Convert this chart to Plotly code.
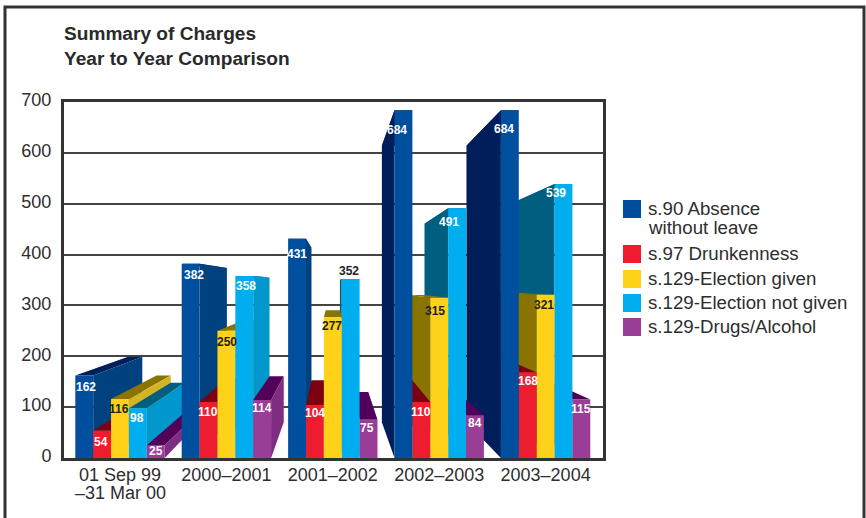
import plotly.graph_objects as go

categories = ["01 Sep 99<br>–31 Mar 00", "2000–2001", "2001–2002", "2002–2003", "2003–2004"]
series_names = ["s.90 Absence<br>without leave", "s.97 Drunkenness", "s.129-Election given",
                "s.129-Election not given", "s.129-Drugs/Alcohol"]
absence = [162, 382, 431, 684, 684]
drunkenness = [54, 110, 104, 110, 168]
election_given = [116, 250, 277, 315, 321]
election_not_given = [98, 358, 352, 491, 539]
drugs = [25, 114, 75, 84, 115]
y_ticks = [0, 100, 200, 300, 400, 500, 600, 700]

series_values = [absence, drunkenness, election_given, election_not_given, drugs]

# style: front, top face, side facing right, side facing left
front_colors = ["#004f9f", "#ed1c2e", "#ffd21a", "#00aeef", "#993d97"]
top_colors = ["#001f5a", "#7d0012", "#8a7400", "#005f80", "#52005a"]
right_colors = ["#00417f", "#7d0012", "#d4b324", "#0098cc", "#7f2d80"]
left_colors = ["#001f5a", "#9b0014", "#8a7400", "#005f80", "#7a2b7a"]
label_colors = ["#fff", "#fff", "#222", "#fff", "#fff"]

# perspective of the original artwork
VP_X, VP_Y = 2.0, 342.0
DEPTH = 0.205
BAR_W = 0.168
W, H = 866, 518
L, R, T, B = 64, 603, 102, 458

# per-label nudges in px (dx, dy below top)
label_dx = [[2, -1, -1, -1, 0], [3, -1, 1, 2, 0], [0, 0, -1, -2, -2], [-6, 0, -4, -8, 0], [-6, 0, -2, -7, 0]]
label_dy = [[11, 11, 10, 10, 6], [11, 10, 11, 10, 8], [15, 8, 9, -8, 8], [20, 10, 13, 14, 8], [19, 8, 10, 9, 9]]

fig = go.Figure()


def back(x, y):
    return x + DEPTH * (VP_X - x), y + DEPTH * (VP_Y - y)


def poly(xs, ys, color, name=None):
    fig.add_trace(go.Scatter(x=xs + xs[:1], y=ys + ys[:1], mode="lines", fill="toself", fillcolor=color,
                             line=dict(width=0, color=color), hoverinfo="skip" if name is None else "name",
                             name=name or "", showlegend=False))


bars = []
for g in range(len(categories)):
    for s in range(len(series_values)):
        bars.append((g + (s - 2) * BAR_W, g, s))
bars.sort(key=lambda b: -abs(b[0] - VP_X))

for xc, g, s in bars:
    v = series_values[s][g]
    x0, x1 = xc - BAR_W / 2, xc + BAR_W / 2
    bx0, tv = back(x0, v)
    bx1, _ = back(x1, v)
    poly([x0, x1, bx1, bx0], [v, v, tv, tv], top_colors[s])
    if x1 < VP_X:
        _, bb = back(x1, 0)
        poly([x1, x1, bx1, bx1], [0, v, tv, bb], right_colors[s])
    if x0 > VP_X:
        _, bb = back(x0, 0)
        poly([x0, x0, bx0, bx0], [0, v, tv, bb], left_colors[s])
    poly([x0, x1, x1, x0], [0, 0, v, v], front_colors[s], name=series_names[s].replace("<br>", " "))

annotations = []
for xc, g, s in bars:
    dark_outside = series_values[s][g] == 352
    annotations.append(dict(x=xc, y=series_values[s][g], xref="x", yref="y",
                            text="<b>" + str(series_values[s][g]) + "</b>",
                            showarrow=False, xshift=label_dx[g][s], yshift=-label_dy[g][s],
                            font=dict(family="Liberation Sans", size=12,
                                      color="#222" if dark_outside else label_colors[s])))


def px(v):
    return (v - L) / (R - L)


def py(v):
    return (B - v) / (B - T)


annotations.append(dict(x=px(62), y=py(46), xref="paper", yref="paper", xanchor="left", yanchor="middle",
                        align="left", showarrow=False,
                        text="<b>Summary of Charges<br>Year to Year Comparison</b>",
                        font=dict(family="Liberation Sans", size=19.1, color="#2a2a2a")))

# second row of the first category, tighter than a plotly line break
annotations.append(dict(x=0, y=py(493), xref="x", yref="paper", yanchor="middle", showarrow=False,
                        text=categories[0].split("<br>")[1],
                        font=dict(family="Liberation Sans", size=18, color="#2e2e2e")))

shapes = [dict(type="rect", xref="paper", yref="paper", x0=px(5), x1=px(864), y0=py(7), y1=py(540),
               line=dict(color="#333", width=3), fillcolor="rgba(0,0,0,0)", layer="below")]
legend_y = [209, 254, 279, 303, 327]
for s, name in enumerate(series_names):
    shapes.append(dict(type="rect", xref="paper", yref="paper", x0=px(623), x1=px(641),
                       y0=py(legend_y[s] - 9), y1=py(legend_y[s] + 9),
                       fillcolor=front_colors[s], line=dict(width=0)))
    for i, line in enumerate(name.split("<br>")):
        annotations.append(dict(x=px(646), y=py(legend_y[s] - 1 + i * 19), xref="paper", yref="paper", xanchor="left",
                                yanchor="middle", align="left", showarrow=False, text=line,
                                font=dict(family="Liberation Sans", size=18.7, color="#2e2e2e")))

fig.update_layout(
    width=W, height=H, margin=dict(l=L, r=W - R, t=T, b=H - B, pad=0),
    paper_bgcolor="white", plot_bgcolor="white", showlegend=False,
    font=dict(family="Liberation Sans", size=18, color="#2e2e2e"),
    annotations=annotations, shapes=shapes,
    xaxis=dict(range=[(L - 120) / 106.4, (R - 120) / 106.4], tickmode="array", tickvals=list(range(5)),
               ticktext=[c.split("<br>")[0] for c in categories], showgrid=False, zeroline=False,
               showline=True, mirror=True, linecolor="#333", linewidth=3, ticks="", automargin=False,
               ticklabelstandoff=-2, fixedrange=True),
    yaxis=dict(range=[0, 700], tickmode="array", tickvals=y_ticks, ticktext=[str(t) for t in y_ticks],
               showgrid=True, gridcolor="#444", gridwidth=1.5, zeroline=False, showline=True, mirror=True,
               linecolor="#333", linewidth=3, ticks="", ticklabelstandoff=6, ticklabelshift=-2, automargin=False,
               fixedrange=True),
)
fig.write_html("out.html", config=dict(displayModeBar=False), post_script="document.body.style.margin='0';")
